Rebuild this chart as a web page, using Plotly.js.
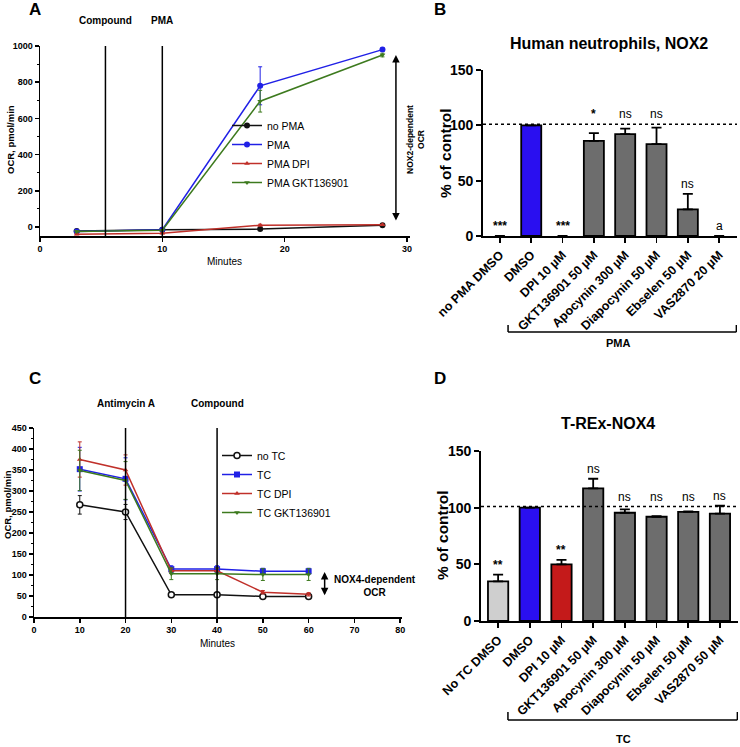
<!DOCTYPE html>
<html><head><meta charset="utf-8">
<script src="https://cdn.plot.ly/plotly-3.0.1.min.js"></script>
<style>html,body{margin:0;padding:0;background:#fff}#chart{width:740px;height:747px}</style>
</head><body><div id="chart"></div><script>
// ---------- Panel A data ----------
const timeA = [3, 10, 18, 28];
const noPMA = [-22, -15, -12, 10];
const noPMAerr = [4, 4, 5, 4];
const pma = [-25, -15, 780, 980];
const pmaErr = [4, 4, 105, 8];
const pmaDPI = [-40, -35, 10, 12];
const pmaDPIerr = [3, 3, 5, 3];
const pmaGKT = [-25, -18, 695, 950];
const pmaGKTerr = [4, 4, 60, 10];
const eventsA = [5.35, 10];
const eventLabelsA = ['Compound', 'PMA'];

// ---------- Panel B data ----------
const catsB = ['no PMA DMSO','DMSO','DPI 10 µM','GKT136901 50 µM','Apocynin 300 µM','Diapocynin 50 µM','Ebselen 50 µM','VAS2870 20 µM'];
const valsB = [0, 100, 0, 86, 92, 83, 24, 0];
const errB = [0, 0, 0, 7, 5, 15, 14, 0];
const sigB = ['***', '', '***', '*', 'ns', 'ns', 'ns', 'a'];

// ---------- Panel C data ----------
const timeC = [10, 20, 30, 40, 50, 60];
const noTC = [267, 250, 53, 53, 49, 49];
const noTCerr = [22, 18, 4, 4, 4, 4];
const tc = [352, 329, 114, 114, 109, 109];
const tcErr = [52, 50, 8, 8, 7, 7];
const tcDPI = [375, 350, 110, 110, 59, 54];
const tcDPIerr = [42, 36, 6, 6, 4, 4];
const tcGKT = [349, 325, 103, 103, 101, 101];
const tcGKTerr = [48, 45, 14, 14, 14, 14];
const eventsC = [20, 40];
const eventLabelsC = ['Antimycin A', 'Compound'];

// ---------- Panel D data ----------
const catsD = ['No TC DMSO','DMSO','DPI 10 µM','GKT136901 50 µM','Apocynin 300 µM','Diapocynin 50 µM','Ebselen 50 µM','VAS2870 50 µM'];
const valsD = [35, 100, 50, 117, 95.5, 92, 96.3, 94.7];
const errD = [6, 0, 4, 8.5, 3, 0.6, 0.3, 7];
const sigD = ['**', '', '**', 'ns', 'ns', 'ns', 'ns', 'ns'];

const controlLevel = 101;

// ---------- styles ----------
const FONT = 'Liberation Sans, Arial, sans-serif';
const BLACK = '#111111', BLUE = '#2020e6', RED = '#c0302a', GREEN = '#3d7a1e';
const BAR_BLUE = '#2a0ff0', BAR_RED = '#c41a1a', BAR_GRAY = '#6d6d6d', BAR_LIGHT = '#cfcfcf';
const colorsB = [BAR_GRAY, BAR_BLUE, BAR_GRAY, BAR_GRAY, BAR_GRAY, BAR_GRAY, BAR_GRAY, BAR_GRAY];
const colorsD = [BAR_LIGHT, BAR_BLUE, BAR_RED, BAR_GRAY, BAR_GRAY, BAR_GRAY, BAR_GRAY, BAR_GRAY];

function lineTrace(x, y, err, name, color, symbol, xa, ya, legend, open) {
  return {
    type: 'scatter', mode: 'lines+markers', x: x, y: y, name: name,
    xaxis: xa, yaxis: ya, legend: legend,
    line: {color: color, width: 1.5},
    marker: {color: open ? '#ffffff' : color, symbol: symbol, size: symbol.indexOf('triangle') === 0 ? 5 : 6,
             line: {color: color, width: open ? 1.5 : 0}},
    error_y: {type: 'data', array: err, visible: true, color: color, thickness: 1, width: 2}
  };
}

const idxB = catsB.map((c, i) => i);
const idxD = catsD.map((c, i) => i);

function barTrace(idx, vals, errs, colors, xa, ya) {
  const shownErr = errs.map((e, i) => vals[i] > 0 ? e : null);
  return {
    type: 'bar', x: idx, y: vals, xaxis: xa, yaxis: ya, showlegend: false, width: 0.64,
    marker: {color: colors, line: {color: '#000', width: vals.map(v => v > 0 ? 1.8 : 0)}},
    error_y: {type: 'data', symmetric: false, array: shownErr, arrayminus: shownErr.map(e => e === null ? null : 0),
              color: '#000', thickness: 1.8, width: 5}
  };
}

const traces = [
  lineTrace(timeA, noPMA, noPMAerr, 'no PMA', BLACK, 'circle', 'x', 'y', 'legend'),
  lineTrace(timeA, pma, pmaErr, 'PMA', BLUE, 'circle', 'x', 'y', 'legend'),
  lineTrace(timeA, pmaDPI, pmaDPIerr, 'PMA DPI', RED, 'triangle-up', 'x', 'y', 'legend'),
  lineTrace(timeA, pmaGKT, pmaGKTerr, 'PMA GKT136901', GREEN, 'triangle-down', 'x', 'y', 'legend'),
  barTrace(idxB, valsB, errB, colorsB, 'x2', 'y2'),
  lineTrace(timeC, noTC, noTCerr, 'no TC', BLACK, 'circle', 'x3', 'y3', 'legend2', true),
  lineTrace(timeC, tc, tcErr, 'TC', BLUE, 'square', 'x3', 'y3', 'legend2'),
  lineTrace(timeC, tcDPI, tcDPIerr, 'TC DPI', RED, 'triangle-up', 'x3', 'y3', 'legend2'),
  lineTrace(timeC, tcGKT, tcGKTerr, 'TC GKT136901', GREEN, 'triangle-down', 'x3', 'y3', 'legend2'),
  barTrace(idxD, valsD, errD, colorsD, 'x4', 'y4')
];

const smallTick = {family: FONT, size: 9, color: '#000', weight: 700};
const bigTick = {family: FONT, size: 14, color: '#000', weight: 700};
const catTick = {family: FONT, size: 12.5, color: '#000', weight: 700};

function lineAxis(domain, range, extra) {
  return Object.assign({
    domain: domain, range: range, showgrid: false, zeroline: false, showline: true,
    linecolor: '#000', linewidth: 1.5, ticks: 'outside', ticklen: 4, tickwidth: 1.5, tickcolor: '#000',
    tickfont: smallTick, fixedrange: true
  }, extra);
}

const layout = {
  width: 740, height: 747, margin: {l: 0, r: 0, t: 0, b: 0},
  paper_bgcolor: '#fff', plot_bgcolor: 'rgba(0,0,0,0)',
  font: {family: FONT, color: '#000'},
  bargap: 0,
  xaxis: lineAxis([40/740, 410/740], [0, 30.25], {anchor: 'y', tickvals: [0, 10, 20, 30]}),
  yaxis: lineAxis([1-236/747, 1-46/747], [-50, 1000], {anchor: 'x', tickvals: [0, 200, 400, 600, 800, 1000],
    minor: {ticks: 'outside', tickvals: [100, 300, 500, 700, 900], ticklen: 2, tickwidth: 1, tickcolor: '#000'}}),
  xaxis2: lineAxis([483/740, 737/740], [-0.54, 7.57], {anchor: 'y2', tickvals: idxB, ticktext: catsB, tickangle: -45,
    tickfont: catTick, ticklen: 5, tickwidth: 1.8, linewidth: 1.8}),
  yaxis2: lineAxis([1-236/747, 1-70/747], [0, 150], {anchor: 'x2', tickvals: [0, 50, 100, 150], tickfont: bigTick, ticklen: 5,
    tickwidth: 1.8, linewidth: 1.8}),
  xaxis3: lineAxis([34/740, 402/740], [0, 80.4], {anchor: 'y3', tickvals: [0, 10, 20, 30, 40, 50, 60, 70, 80]}),
  yaxis3: lineAxis([1-617/747, 1-428/747], [0, 450], {anchor: 'x3', dtick: 50,
    minor: {ticks: 'outside', dtick: 25, ticklen: 2, tickwidth: 1, tickcolor: '#000'}}),
  xaxis4: lineAxis([481/740, 738/740], [-0.54, 7.57], {anchor: 'y4', tickvals: idxD, ticktext: catsD, tickangle: -45,
    tickfont: catTick, ticklen: 5, tickwidth: 1.8, linewidth: 1.8}),
  yaxis4: lineAxis([1-621/747, 1-451/747], [0, 150], {anchor: 'x4', tickvals: [0, 50, 100, 150], tickfont: bigTick, ticklen: 5,
    tickwidth: 1.8, linewidth: 1.8}),
  legend: {x: 227/740, y: 1-111/747, xanchor: 'left', yanchor: 'top', bgcolor: 'rgba(0,0,0,0)',
    font: {family: FONT, size: 10.5, color: '#000'}, tracegroupgap: 0, itemwidth: 30},
  legend2: {x: 217/740, y: 1-441/747, xanchor: 'left', yanchor: 'top', bgcolor: 'rgba(0,0,0,0)',
    font: {family: FONT, size: 10.5, color: '#000'}, tracegroupgap: 0, itemwidth: 30},
  shapes: [],
  annotations: []
};

// text placed at a pixel centre
function label(text, px, py, size, bold, rotate) {
  layout.annotations.push({xref: 'paper', yref: 'paper', x: px/740, y: 1-py/747, text: text, showarrow: false,
    textangle: rotate ? -90 : 0, xanchor: 'center', yanchor: 'middle',
    font: {family: FONT, size: size, weight: bold ? 700 : 400, color: '#000'}});
}
// axis titles
label('Minutes', 224, 262, 10, false, false);
label('OCR, pmol/min', 10, 140, 9.5, true, true);
label('% of control', 445, 153, 15.5, true, true);
label('Minutes', 217, 643, 10, false, false);
label('OCR, pmol/min', 7, 505, 9.5, true, true);
label('% of control', 442, 535, 15.5, true, true);

// event lines and labels
eventsA.forEach((t, i) => {
  layout.shapes.push({type: 'line', xref: 'x', yref: 'y', x0: t, x1: t, y0: -50, y1: 1000, line: {color: '#000', width: 1.5}});
  layout.annotations.push({xref: 'x', yref: 'paper', x: t, y: 1-20/747, text: eventLabelsA[i], showarrow: false,
    xanchor: 'center', yanchor: 'middle', font: {family: FONT, size: 10, weight: 700}});
});
eventsC.forEach((t, i) => {
  layout.shapes.push({type: 'line', xref: 'x3', yref: 'y3', x0: t, x1: t, y0: 0, y1: 450, line: {color: '#000', width: 1.5}});
  layout.annotations.push({xref: 'x3', yref: 'paper', x: t, y: 1-403/747, text: eventLabelsC[i], showarrow: false,
    xanchor: 'center', yanchor: 'middle', font: {family: FONT, size: 10, weight: 700}});
});

// dotted control lines
layout.shapes.push({type: 'line', xref: 'x2', yref: 'y2', x0: -0.54, x1: 7.57, y0: controlLevel, y1: controlLevel, line: {color: '#000', width: 1.5, dash: 'dot'}});
layout.shapes.push({type: 'line', xref: 'x4', yref: 'y4', x0: -0.54, x1: 7.57, y0: controlLevel, y1: controlLevel, line: {color: '#000', width: 1.5, dash: 'dot'}});

// brackets
function bracket(xr, x0, x1, yb, yt) {
  layout.shapes.push({type: 'line', xref: xr, yref: 'paper', x0: x0, x1: x1, y0: yb, y1: yb, line: {color: '#000', width: 1.5}});
  layout.shapes.push({type: 'line', xref: xr, yref: 'paper', x0: x0, x1: x0, y0: yb, y1: yt, line: {color: '#000', width: 1.5}});
  layout.shapes.push({type: 'line', xref: xr, yref: 'paper', x0: x1, x1: x1, y0: yb, y1: yt, line: {color: '#000', width: 1.5}});
}
bracket('x2', 0.26, 7.55, 1-332/747, 1-325/747);
bracket('x4', 0.31, 7.55, 1-720/747, 1-712/747);
label('PMA', 618, 343, 11, true, false);
label('TC', 623, 739, 11, true, false);

// significance labels
function sigLabels(xr, yr, vals, errs, sigs) {
  sigs.forEach((s, i) => {
    if (!s) return;
    const top = vals[i] + errs[i];
    const base = top > 60 ? Math.max(top, controlLevel) : top;
    layout.annotations.push({xref: xr, yref: yr, x: i, y: base, xanchor: 'center', yanchor: 'bottom', yshift: 1, text: s, showarrow: false,
      font: {family: FONT, size: 12, weight: s === 'ns' || s === 'a' ? 400 : 700}});
  });
}
sigLabels('x2', 'y2', valsB, errB, sigB);
sigLabels('x4', 'y4', valsD, errD, sigD);

// titles
label('Human neutrophils, NOX2', 609, 43, 16, true, false);
label('T-REx-NOX4', 608, 423, 16, true, false);

// panel letters
label('A', 35, 10, 17, true, false);
label('B', 440, 9, 17, true, false);
label('C', 35, 378, 17, true, false);
label('D', 440, 378, 17, true, false);

// NOX-dependent arrows
layout.annotations.push({xref: 'x', yref: 'y', axref: 'x', ayref: 'y', x: 29.1, y: 950, ax: 29.1, ay: 27, text: '',
  showarrow: true, arrowside: 'end+start', arrowhead: 2, arrowsize: 1, arrowwidth: 1.5, arrowcolor: '#000'});
label('NOX2-dependent<br>OCR', 415, 140, 8.5, true, true);
layout.annotations.push({xref: 'x3', yref: 'y3', axref: 'x3', ayref: 'y3', x: 63.5, y: 107, ax: 63.5, ay: 48, text: '',
  showarrow: true, arrowside: 'end+start', arrowhead: 2, arrowsize: 1, arrowwidth: 1.5, arrowcolor: '#000'});
label('NOX4-dependent<br>OCR', 375, 586, 10, true, false);

Plotly.newPlot('chart', traces, layout, {displayModeBar: false, staticPlot: true});
</script></body></html>
